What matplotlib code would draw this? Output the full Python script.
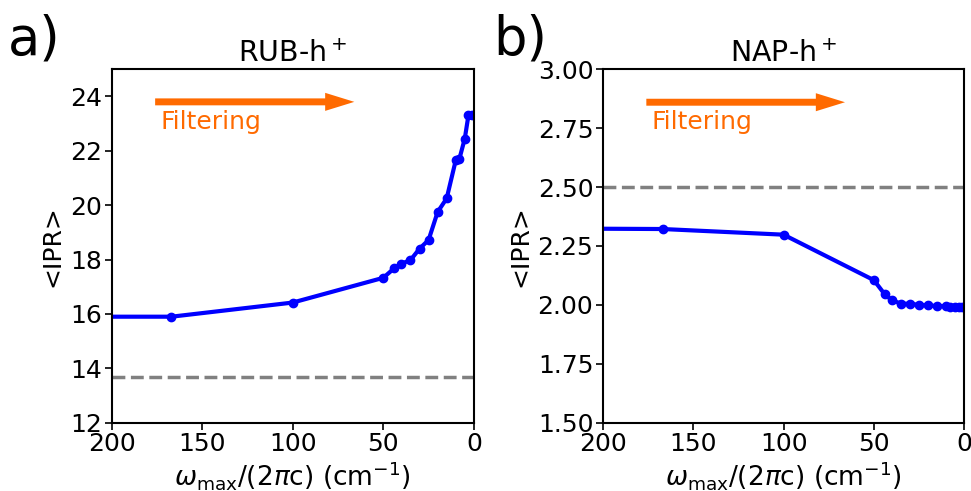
import matplotlib
matplotlib.use('Agg')
from matplotlib import pyplot as plt

# panel a: RUB-h+
rub_w = [250, 167, 100, 50, 44, 40, 35, 30, 25, 20, 15, 10, 8, 5, 3, 1]
rub_ipr = [15.9, 15.9, 16.42, 17.33, 17.68, 17.85, 17.98, 18.4, 18.72, 19.75, 20.25, 21.65, 21.7, 22.45, 23.3, 23.3]
rub_ref = 13.7

# panel b: NAP-h+
nap_w = [250, 167, 100, 50, 44, 40, 35, 30, 25, 20, 15, 10, 8, 5, 3, 1]
nap_ipr = [2.325, 2.322, 2.298, 2.105, 2.045, 2.02, 2.005, 2.005, 2.0, 1.998, 1.995, 1.995, 1.993, 1.993, 1.993, 1.993]
nap_ref = 2.5

blue = '#0000ff'
orange = '#ff6a00'

fig = plt.figure(figsize=(9.71, 4.91), dpi=100)
ax1 = fig.add_axes([0.115, 0.139, 0.373, 0.72])
ax2 = fig.add_axes([0.621, 0.139, 0.372, 0.72])


def panel(ax, w, ipr, ref, title, ylim, yticks, arrow_y, text_y):
    ax.plot(w, ipr, '-o', color=blue, lw=3, ms=6)
    ax.axhline(ref, color='gray', ls='--', lw=2.5)
    ax.set_xlim(200, 0)
    ax.set_ylim(*ylim)
    ax.set_yticks(yticks)
    ax.set_xticks([200, 150, 100, 50, 0])
    ax.set_title(title, fontsize=20.5, pad=5)
    ax.set_ylabel('<IPR>', fontsize=18, labelpad=4)
    ax.set_xlabel(r'$\omega_{\rm max}/(2\pi$c) (cm$^{-1}$)', fontsize=19, labelpad=2)
    ax.tick_params(labelsize=18, width=1.2, length=5, pad=2)
    for s in ax.spines.values():
        s.set_linewidth(1.5)
    ax.annotate('', xy=(66, arrow_y), xytext=(176, arrow_y),
                arrowprops=dict(width=5, headwidth=13, headlength=21,
                                color=orange, lw=0, shrink=0))
    ax.text(173, text_y, 'Filtering', color=orange, fontsize=18, va='center')


panel(ax1, rub_w, rub_ipr, rub_ref, 'RUB-h$^+$', (12, 25), [12, 14, 16, 18, 20, 22, 24], 23.8, 23.05)
ax1.set_yticklabels(['12', '14', '16', '18', '20', '22', '24'])
panel(ax2, nap_w, nap_ipr, nap_ref, 'NAP-h$^+$', (1.5, 3.0), [1.5, 1.75, 2.0, 2.25, 2.5, 2.75, 3.0], 2.86, 2.775)
ax2.set_yticklabels(['1.50', '1.75', '2.00', '2.25', '2.50', '2.75', '3.00'])

fig.text(0.008, 0.89, 'a)', fontsize=38)
fig.text(0.508, 0.89, 'b)', fontsize=38)

fig.savefig('out.png', dpi=100)
